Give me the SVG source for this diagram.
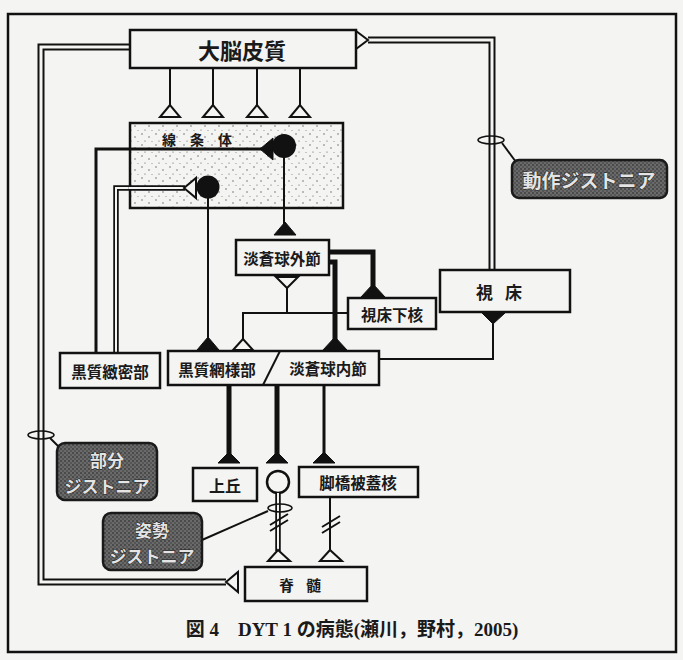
<svg xmlns="http://www.w3.org/2000/svg" width="683" height="660" viewBox="0 0 683 660">
<defs>
<pattern id="stip" width="14" height="11" patternUnits="userSpaceOnUse">
<rect width="14" height="11" fill="#f4f4f2"/>
<circle cx="2" cy="2" r="0.7" fill="#555"/>
<circle cx="9" cy="5" r="0.7" fill="#555"/>
<circle cx="5" cy="9" r="0.6" fill="#555"/>
<circle cx="12" cy="9.5" r="0.5" fill="#777"/>
</pattern>
<pattern id="tex" width="4" height="4" patternUnits="userSpaceOnUse">
<rect width="4" height="4" fill="#6a6a6a"/>
<rect x="0" y="0" width="2" height="2" fill="#4a4a4a"/>
<rect x="2" y="2" width="2" height="2" fill="#555"/>
</pattern>
</defs>
<style>
.box{fill:#f4f4f2;stroke:#111;stroke-width:2.5}
.t{font-family:"Noto Sans CJK JP","Noto Sans",sans-serif;font-weight:bold;fill:#1a1a1a;text-anchor:middle;dominant-baseline:central}
.ln{fill:none;stroke:#111;stroke-width:2}
.th{fill:none;stroke:#111;stroke-width:5}
.md{fill:none;stroke:#111;stroke-width:3}
.dbo{fill:none;stroke:#111;stroke-width:7}
.dbi{fill:none;stroke:#f4f4f2;stroke-width:3}
.sbo{fill:none;stroke:#111;stroke-width:5.5}
.sbi{fill:none;stroke:#f4f4f2;stroke-width:2}
.fa{fill:#111;stroke:#111;stroke-width:1}
.oa{fill:#f4f4f2;stroke:#111;stroke-width:2;stroke-linejoin:miter}
.lab{fill:url(#tex);stroke:#1a1a1a;stroke-width:2.5}
.lt{font-family:"Noto Sans CJK JP","Noto Sans",sans-serif;font-weight:bold;fill:#e4e4e4;stroke:#222;stroke-width:1;paint-order:stroke;text-anchor:middle;dominant-baseline:central}
.ell{fill:none;stroke:#111;stroke-width:1.5}
</style>
<rect width="683" height="660" fill="#f4f4f2"/>
<rect x="8" y="14" width="668" height="638" fill="none" stroke="#111" stroke-width="2.5"/>

<g id="connectors">
<path class="dbo" d="M130,47 H41 V582 H226"/>
<path class="dbi" d="M130,47 H41 V582 H226"/>
<polygon class="oa" points="226,582 238,572 238,592"/>
<path class="dbo" d="M368,40 H492 V270"/>
<path class="dbi" d="M368,40 H492 V270"/>
<polygon class="oa" points="368,40 356,31 356,49"/>
<path class="ln" d="M170,68 V105 M213,68 V105 M257,68 V105 M300,68 V105"/>
<polygon class="oa" points="170,105 160,117 180,117"/>
<polygon class="oa" points="213,105 203,117 223,117"/>
<polygon class="oa" points="257,105 247,117 267,117"/>
<polygon class="oa" points="300,105 290,117 310,117"/>
<path class="md" d="M96,353 V149 H131"/>
<path class="sbo" d="M116,353 V188 H131"/>
<path class="sbi" d="M116,353 V188 H131"/>
<path class="ln" d="M284,208 V224"/>
<polygon class="fa" points="285,222 274,235 296,235"/>
<path class="ln" d="M208,208 V338"/>
<polygon class="fa" points="208,337 197,350 219,350"/>
<path class="th" d="M329,252 H373 V286"/>
<polygon class="fa" points="373,284 361,297 385,297"/>
<path class="th" d="M329,262 H335 V340"/>
<polygon class="fa" points="335,337 323,350 347,350"/>
<path class="ln" d="M348,313 H243 V339 M287,313 V288"/>
<polygon class="oa" points="287,288 276,277 298,277"/>
<polygon class="oa" points="243,339 233,350 253,350"/>
<path class="ln" d="M379,359 H493 V324"/>
<polygon class="fa" points="493,324 482,313 505,313"/>
<path class="th" d="M229,385 V454"/>
<polygon class="fa" points="229,452 218,463 240,463"/>
<path class="th" d="M277,385 V454"/>
<polygon class="fa" points="277,452 266,463 288,463"/>
<path class="md" d="M324,385 V454"/>
<polygon class="fa" points="324,452 313,463 335,463"/>
<circle cx="278" cy="482" r="11" fill="#f4f4f2" stroke="#111" stroke-width="2.5"/>
<path class="sbo" d="M278,493 V551"/>
<path class="sbi" d="M278,493 V551"/>
<polygon class="oa" points="278,550 268,561 290,561"/>
<path class="ln" d="M270,525 L288,514 M270,531 L288,520"/>
<path class="ln" d="M330,497 V551"/>
<polygon class="oa" points="330,550 320,561 342,561"/>
<path class="ln" d="M322,527 L340,516 M322,533 L340,522"/>
<ellipse class="ell" cx="491" cy="140" rx="13" ry="4"/>
<path class="ln" d="M502,143 L516,162" stroke-width="1.5"/>
<ellipse class="ell" cx="41" cy="435" rx="13" ry="4"/>
<path class="ln" d="M50,438 L60,448" stroke-width="1.5"/>
<ellipse class="ell" cx="280" cy="508" rx="12" ry="4"/>
<path class="ln" d="M268,511 L202,540" stroke-width="1.5"/>
</g>

<g id="cortex">
<rect class="box" x="130" y="30" width="226" height="38"/>
<text class="t" x="242" y="49" font-size="22">大脳皮質</text>
</g>
<g id="striatum">
<rect x="130" y="123" width="213" height="85" fill="url(#stip)" stroke="#111" stroke-width="2.5"/>
<text class="t" x="204" y="139" font-size="14" letter-spacing="14">線条体</text>
<path class="md" d="M131,149 H262"/>
<polygon class="fa" points="260,149 273,138 273,160"/>
<circle cx="284" cy="146" r="12" fill="#111"/>
<path class="sbo" d="M130,188 H185"/>
<path class="sbi" d="M129,188 H185"/>
<polygon class="oa" points="184,188 196,178 196,198"/>
<circle cx="208" cy="187" r="11.5" fill="#111"/>
<path class="ln" d="M284,156 V208 M208,196 V208"/>
</g>
<g id="gpe">
<rect class="box" x="236" y="240" width="93" height="35"/>
<text class="t" x="282" y="258" font-size="15.5">淡蒼球外節</text>
</g>
<g id="stn">
<rect class="box" x="348" y="298" width="88" height="31"/>
<text class="t" x="392" y="314" font-size="15.5">視床下核</text>
</g>
<g id="thalamus">
<rect class="box" x="440" y="270" width="130" height="42"/>
<text class="t" x="505" y="291" font-size="17" letter-spacing="12">視床</text>
</g>
<g id="snc">
<rect class="box" x="60" y="353" width="100" height="35"/>
<text class="t" x="110" y="371" font-size="15.5">黒質緻密部</text>
</g>
<g id="snr-gpi">
<rect class="box" x="168" y="351" width="211" height="34"/>
<path class="ln" d="M280,351 L263,385"/>
<text class="t" x="217" y="369" font-size="15.5">黒質網様部</text>
<text class="t" x="328" y="368" font-size="15.5">淡蒼球内節</text>
</g>
<g id="superior-colliculus">
<rect class="box" x="193" y="468" width="64" height="33"/>
<text class="t" x="225" y="485" font-size="16">上丘</text>
</g>
<g id="ppn">
<rect class="box" x="299" y="467" width="119" height="30"/>
<text class="t" x="358" y="482" font-size="15.5">脚橋被蓋核</text>
</g>
<g id="spinal-cord">
<rect class="box" x="245" y="567" width="122" height="34"/>
<text class="t" x="306" y="584" font-size="15" letter-spacing="12">脊髄</text>
</g>
<g id="label-action">
<rect class="lab" x="512" y="160" width="155" height="38" rx="7"/>
<text class="lt" x="589" y="179" font-size="19">動作ジストニア</text>
</g>
<g id="label-segmental">
<rect class="lab" x="57" y="443" width="100" height="57" rx="8"/>
<text class="lt" x="107" y="459" font-size="17">部分</text>
<text class="lt" x="107" y="485" font-size="17">ジストニア</text>
</g>
<g id="label-postural">
<rect class="lab" x="103" y="513" width="99" height="57" rx="8"/>
<text class="lt" x="152" y="529" font-size="17">姿勢</text>
<text class="lt" x="152" y="555" font-size="17">ジストニア</text>
</g>
<g id="caption">
<text x="352" y="629" font-family="Liberation Serif,Noto Sans CJK JP,serif" font-weight="bold" font-size="19" fill="#1a1a1a" text-anchor="middle" dominant-baseline="central">図 4　DYT 1 の病態(瀬川，野村，2005)</text>
</g>
</svg>
